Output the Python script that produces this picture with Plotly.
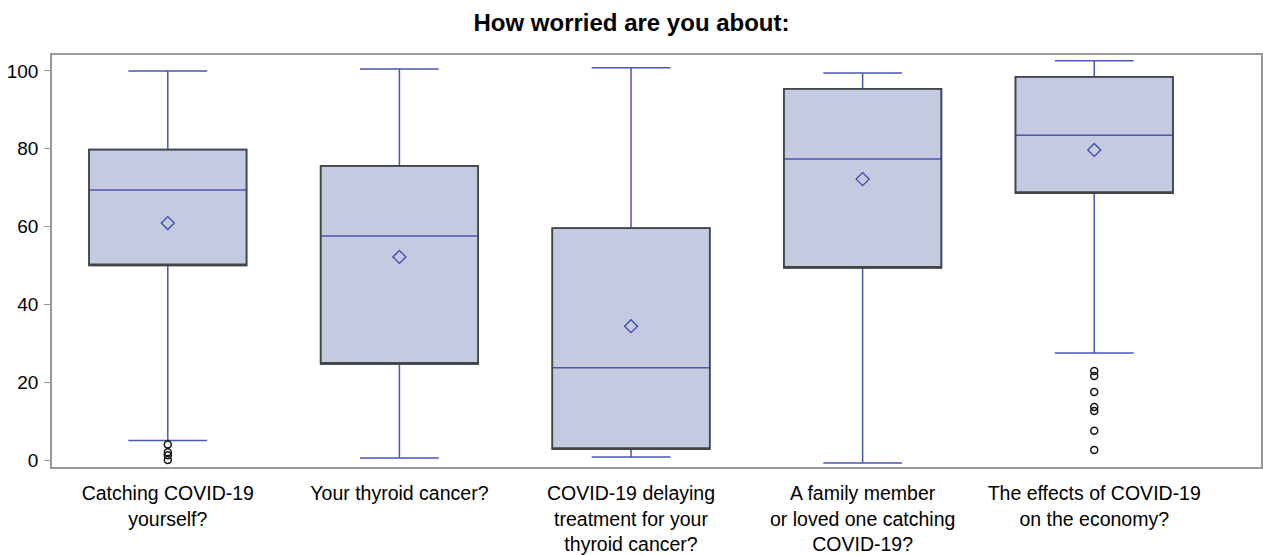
import plotly.graph_objects as go

categories = ["Catching COVID-19<br>yourself?",
              "Your thyroid cancer?",
              "COVID-19 delaying<br>treatment for your<br>thyroid cancer?",
              "A family member<br>or loved one catching<br>COVID-19?",
              "The effects of COVID-19<br>on the economy?"]
lower_whisker = [5, 0.5, 0.8, -0.8, 27.5]
q1 = [50, 24.7, 2.8, 49.4, 68.6]
median = [69.4, 57.6, 23.7, 77.4, 83.5]
q3 = [79.8, 75.6, 59.6, 95.4, 98.5]
upper_whisker = [100, 100.5, 100.8, 99.5, 102.6]
means = [60.9, 52.2, 34.4, 72.2, 79.7]
outliers = {
    0: [4, 2, 1.2, 0],
    4: [22.9, 21.6, 17.5, 13.6, 12.6, 7.5, 2.6],
}

fig = go.Figure()
# whiskers + median (blue) with fill
fig.add_trace(go.Box(
    x=categories, q1=q1, median=median, q3=q3,
    lowerfence=lower_whisker, upperfence=upper_whisker,
    fillcolor="#c4cbe0", line=dict(color="#4a55b5", width=1.5),
    width=0.68, whiskerwidth=0.5, boxpoints=False, hoverinfo="skip",
    showlegend=False))
# dark outline of boxes
fig.add_trace(go.Box(
    x=categories, q1=q1, median=q1, q3=q3,
    lowerfence=q1, upperfence=q3,
    fillcolor="rgba(0,0,0,0)", line=dict(color="#454545", width=1.7),
    width=0.68, whiskerwidth=0, boxpoints=False, hoverinfo="skip",
    showlegend=False))
# means
fig.add_trace(go.Scatter(
    x=categories, y=means, mode="markers",
    marker=dict(symbol="diamond-open", size=10, color="#3b47b0",
                line=dict(width=1.3, color="#3b47b0")),
    showlegend=False))
# outliers
ox, oy = [], []
for i, vals in outliers.items():
    ox += [categories[i]] * len(vals)
    oy += vals
fig.add_trace(go.Scatter(
    x=ox, y=oy, mode="markers",
    marker=dict(symbol="circle-open", size=7, color="#111111",
                line=dict(width=1.5, color="#111111")),
    showlegend=False))

fig.update_layout(
    width=1263, height=555,
    margin=dict(l=52, r=2, t=55, b=88, autoexpand=False),
    paper_bgcolor="white", plot_bgcolor="white",
    boxmode="overlay",
    font=dict(family="Liberation Sans, Arial, sans-serif", color="#000000"),
    title=dict(text="<b>How worried are you about:</b>", x=0.5, xanchor="center",
               y=0.960, yanchor="middle", font=dict(size=24, color="#000")),
)
fig.update_xaxes(type="category", range=[-0.5, 4.72], showgrid=False,
                 showline=True, linecolor="#999999", linewidth=1.5, mirror=True,
                 ticks="", tickfont=dict(size=19.5), ticklabelstandoff=8,
                 automargin=False)
fig.update_yaxes(range=[-1.8, 104.1], tickvals=[0, 20, 40, 60, 80, 100],
                 showgrid=False, zeroline=False,
                 showline=True, linecolor="#999999", linewidth=1.5, mirror=True,
                 ticks="outside", ticklen=6, tickcolor="#999999",
                 tickfont=dict(size=19), ticklabelstandoff=2, automargin=False)
fig.write_html("out.html",
               config={"displayModeBar": False},
               post_script="document.body.style.margin='0';"
                           "document.body.style.overflow='hidden';")
